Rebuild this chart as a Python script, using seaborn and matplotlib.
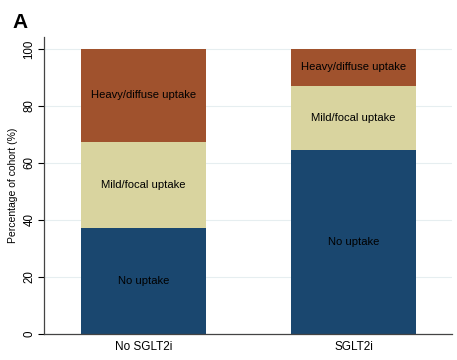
import numpy as np
import pandas as pd
import matplotlib
matplotlib.use("Agg")
import matplotlib.pyplot as plt
import seaborn as sns

# Data (percent of cohort)
groups = ["No SGLT2i", "SGLT2i"]
no_uptake = [37.3, 64.6]
mild_uptake = [30.1, 22.4]
heavy_uptake = [32.6, 13.0]
segment_names = ["No uptake", "Mild/focal uptake", "Heavy/diffuse uptake"]
segment_colors = ["#1a476f", "#d9d49f", "#a0522d"]

sns.set_style("white")
plt.rcParams["font.family"] = ["Liberation Sans", "DejaVu Sans"]
plt.rcParams["text.color"] = "black"
plt.rcParams["axes.labelcolor"] = "black"
plt.rcParams["xtick.color"] = "black"
plt.rcParams["ytick.color"] = "black"

fig = plt.figure(figsize=(4.57, 3.6), dpi=100)
ax = fig.add_axes([44 / 457, 26 / 360, 408 / 457, 297 / 360])

segs = [no_uptake, mild_uptake, heavy_uptake]
cum = np.cumsum(np.array(segs), axis=0)

# Stacked bars: draw the tallest cumulative layer first
for i in range(len(segs) - 1, -1, -1):
    df = pd.DataFrame({"group": groups, "value": cum[i]})
    sns.barplot(data=df, x="group", y="value", color=segment_colors[i],
                width=0.595, saturation=1, ax=ax, zorder=2, linewidth=0)

# Segment labels
for j in range(len(groups)):
    bottom = 0
    for i, name in enumerate(segment_names):
        h = segs[i][j]
        ax.text(j, bottom + h / 2, name, ha="center", va="center",
                fontsize=8.1, color="black", zorder=3)
        bottom += h

ax.set_xlim(-0.474, 1.469)
ax.set_ylim(0, 104.2)
ax.set_yticks([0, 20, 40, 60, 80, 100])
ax.set_yticklabels(["0", "20", "40", "60", "80", "100"], rotation=90, va="center")
ax.yaxis.grid(True, color="#e6eef0", linewidth=0.8, zorder=0)
ax.set_axisbelow(True)
ax.set_xlabel("")
ax.set_ylabel("Percentage of cohort (%)", fontsize=7.5, labelpad=4)
ax.tick_params(axis="y", length=4, width=0.8, colors="black", labelsize=8.3, pad=2, left=True)
ax.tick_params(axis="x", length=0, colors="black", labelsize=8.5, pad=5)

for side in ["top", "right"]:
    ax.spines[side].set_visible(False)
for side in ["left", "bottom"]:
    ax.spines[side].set_color("#444444")
    ax.spines[side].set_linewidth(0.9)

fig.text(12 / 457, 1 - 22 / 360, "A", fontsize=15, fontweight="bold", va="center", ha="left",
         color="black")

fig.savefig("out.png", dpi=100)
